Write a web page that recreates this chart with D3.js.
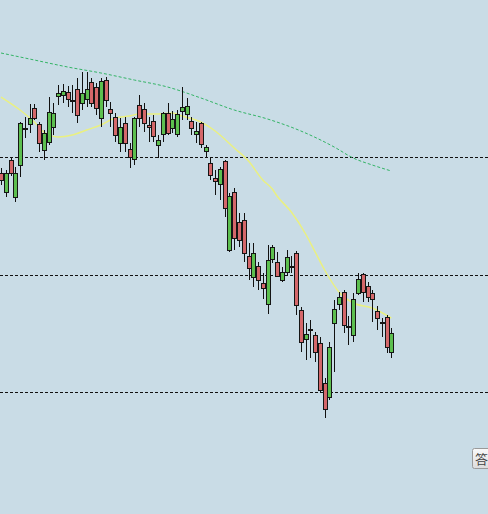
<!DOCTYPE html>
<html><head><meta charset="utf-8">
<script src="https://cdn.jsdelivr.net/npm/d3@7"></script>
<style>html,body{margin:0;padding:0;background:#c9dce6;overflow:hidden}</style>
</head><body>
<svg id="c" width="488" height="514"></svg>
<script>
// OHLC series (price units), one entry per trading day
const opens  = [2654,2616,2680,2606,2670,2744,2752,2784,2752,2700,2716,2746,2808,2810,2816,2800,2822,2794,2802,2836,2826,2764,2840,2782,2766,2714,2754,2702,2682,2790,2782,2750,2758,2710,2732,2774,2744,2732,2778,2772,2758,2732,2754,2698,2674,2644,2632,2678,2500,2616,2556,2560,2488,2446,2468,2434,2392,2482,2476,2440,2456,2468,2494,2380,2322,2342,2330,2314,2234,2206,2354,2392,2416,2348,2330,2414,2452,2428,2414,2378,2356,2366,2296];
const highs  = [2664,2660,2686,2666,2756,2766,2792,2792,2756,2740,2806,2794,2830,2832,2828,2830,2844,2856,2856,2844,2834,2844,2846,2796,2774,2764,2766,2714,2766,2810,2794,2766,2770,2730,2776,2794,2778,2780,2826,2804,2766,2756,2756,2710,2686,2660,2666,2680,2614,2624,2574,2574,2514,2514,2476,2454,2510,2510,2496,2466,2500,2488,2498,2386,2354,2360,2336,2326,2244,2316,2400,2416,2420,2368,2414,2454,2454,2436,2420,2388,2364,2370,2344];
const lows   = [2630,2606,2648,2596,2646,2724,2734,2760,2696,2680,2710,2730,2790,2794,2786,2774,2754,2780,2786,2786,2770,2746,2786,2746,2716,2696,2696,2664,2670,2746,2736,2716,2716,2684,2716,2730,2734,2726,2760,2760,2730,2714,2704,2686,2640,2610,2600,2566,2496,2500,2506,2476,2440,2426,2420,2402,2372,2474,2446,2436,2450,2454,2370,2296,2280,2284,2276,2214,2164,2200,2256,2380,2334,2310,2316,2410,2396,2396,2356,2340,2326,2294,2284];
const closes = [2640,2654,2654,2654,2754,2744,2764,2764,2714,2734,2776,2774,2814,2818,2802,2800,2770,2814,2822,2794,2784,2838,2800,2774,2730,2746,2714,2686,2764,2764,2754,2746,2728,2720,2774,2734,2762,2772,2786,2788,2744,2738,2712,2706,2650,2638,2662,2584,2608,2524,2520,2494,2464,2494,2440,2424,2480,2506,2448,2456,2486,2468,2390,2316,2332,2342,2296,2220,2182,2306,2382,2406,2350,2348,2402,2442,2416,2406,2402,2364,2356,2306,2334];

// moving averages: day index -> value
const maShortIdx = [0,4,7,9,12,15,18,21,24,27,29,33,36,38,42,45,49,52,55,57,58,61,64,66,68,71,74,78,82];
const maShortVal = [2806,2780,2756,2736,2726,2730,2740,2750,2764,2768,2772,2772,2774,2768,2756,2738,2704,2678,2640,2622,2608,2576,2532,2496,2460,2416,2394,2384,2364];
const maLongIdx  = [0,7,14,21,28,35,42,49,56,63,70,74,78,82];
const maLongVal  = [2894,2880,2866,2854,2840,2826,2804,2780,2762,2738,2706,2684,2670,2658];

const gridLevels = [2686, 2450, 2216];
const buttonLabel = "答";

const W = 488, H = 514;
const n = opens.length;
const svg = d3.select("#c");

const x = d3.scaleLinear().domain([0, n - 1]).range([1, 391.3]);
const y = d3.scaleLinear().domain([1972, 3000]).range([H, 0]);

svg.append("rect").attr("width", W).attr("height", H).attr("fill", "#c9dce6");

// grid lines
svg.append("g").selectAll("line").data(gridLevels).join("line")
  .attr("x1", 0).attr("x2", W)
  .attr("y1", d => Math.round(y(d)) + 0.5).attr("y2", d => Math.round(y(d)) + 0.5)
  .attr("stroke", "#111").attr("stroke-width", 1).attr("stroke-dasharray", "3,2");

// moving averages
const lineGen = d3.line().x(d => x(d[0])).y(d => y(d[1])).curve(d3.curveMonotoneX);
svg.append("path").datum(maLongIdx.map((d, i) => [d, maLongVal[i]]))
  .attr("d", lineGen).attr("fill", "none").attr("stroke", "#34b466")
  .attr("stroke-width", 1).attr("stroke-dasharray", "3,2");
svg.append("path").datum(maShortIdx.map((d, i) => [d, maShortVal[i]]))
  .attr("d", lineGen).attr("fill", "none").attr("stroke", "#eaf080")
  .attr("stroke-width", 1.5);

// candles
const data = d3.range(n).map(i => ({i, o: opens[i], h: highs[i], l: lows[i], c: closes[i]}));
const g = svg.append("g");
const cx = d => Math.round(x(d.i));
g.selectAll("line.w").data(data).join("line").attr("class", "w")
  .attr("x1", d => cx(d) + 0.5).attr("x2", d => cx(d) + 0.5)
  .attr("y1", d => Math.round(y(d.h))).attr("y2", d => Math.round(y(d.l)))
  .attr("stroke", "#111").attr("stroke-width", 1);
g.selectAll("rect.b").data(data).join("rect").attr("class", "b")
  .attr("x", d => cx(d) - 1.5)
  .attr("width", 4)
  .attr("y", d => Math.round(y(Math.max(d.o, d.c))) + 0.5)
  .attr("height", d => Math.max(1, Math.round(y(Math.min(d.o, d.c))) - Math.round(y(Math.max(d.o, d.c)))))
  .attr("fill", d => d.c > d.o ? "#5cbf4f" : (d.c < d.o ? "#d4676a" : "#111"))
  .attr("stroke", "#151515").attr("stroke-width", 1);

// button at bottom right
const defs = svg.append("defs");
const grad = defs.append("linearGradient").attr("id", "bg").attr("x1", 0).attr("y1", 0).attr("x2", 0).attr("y2", 1);
grad.append("stop").attr("offset", "0%").attr("stop-color", "#fafafa");
grad.append("stop").attr("offset", "100%").attr("stop-color", "#dcdcdc");
svg.append("rect").attr("x", 472.5).attr("y", 448.5).attr("width", 26).attr("height", 20).attr("rx", 2)
  .attr("fill", "url(#bg)").attr("stroke", "#9a9a9a");
svg.append("text").attr("x", 475).attr("y", 463.5).text(buttonLabel)
  .attr("font-family", "'Noto Sans CJK SC', sans-serif").attr("font-size", 13).attr("fill", "#444");
</script>
</body></html>
